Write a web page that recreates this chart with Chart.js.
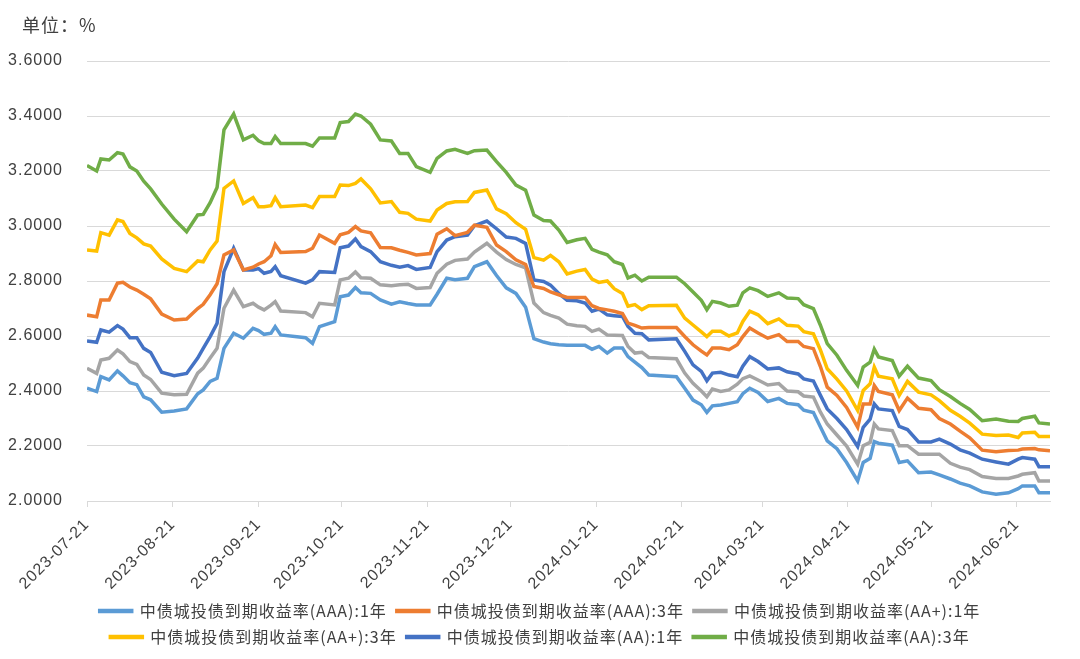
<!DOCTYPE html>
<html>
<head>
<meta charset="utf-8">
<script src="https://cdn.jsdelivr.net/npm/chart.js@4.4.1/dist/chart.umd.min.js"></script>
<style>
  html, body { margin: 0; padding: 0; background: #fff; }
  #wrap { width: 1080px; height: 659px; position: relative; }
</style>
</head>
<body>
<div id="wrap"><canvas id="lineChart"></canvas></div>
<script>
// days counted from 2023-07-21
var days = [
	0, 3.5, 5, 8, 11, 13, 15.5, 18, 20.5, 23,
	27, 31.5, 36, 40, 42, 44.5, 47, 49.5, 53, 56.5,
	60, 62, 64, 66.5, 68, 70, 79, 81.5, 84, 89.5,
	91.5, 94.5, 97, 99, 102.5, 106, 110, 113, 116, 119,
	124, 126.5, 130, 133, 137.5, 140, 144.5, 148, 151.5, 155,
	158.5, 161.5, 165, 167.5, 170.5, 173.5, 177, 180, 182.5, 185,
	188, 190.5, 193.5, 195.5, 198, 200.5, 203, 213, 216, 219,
	222, 224, 226, 229, 232, 235, 237, 239.5, 242.5, 246,
	250, 253, 257, 259, 262.5, 265, 267.5, 271, 274.5, 278.5,
	280.5, 283, 284.5, 286, 291, 293.5, 296.5, 300.5, 305, 308,
	312, 315.5, 319, 323.5, 328.5, 333, 336.5, 338, 342.5, 344,
	348
];

var tickDays = [0, 31, 62, 92, 123, 153, 184, 215, 244, 275, 305, 336];
var tickLabels = ["2023-07-21", "2023-08-21", "2023-09-21", "2023-10-21", "2023-11-21", "2023-12-21",
	"2024-01-21", "2024-02-21", "2024-03-21", "2024-04-21", "2024-05-21", "2024-06-21"];

var seriesNames = [
	"中债城投债到期收益率(AAA):1年",
	"中债城投债到期收益率(AAA):3年",
	"中债城投债到期收益率(AA+):1年",
	"中债城投债到期收益率(AA+):3年",
	"中债城投债到期收益率(AA):1年",
	"中债城投债到期收益率(AA):3年"
];
var seriesColors = ["#5B9BD5", "#ED7D31", "#A5A5A5", "#FFC000", "#4472C4", "#70AD47"];

var aaa1y = [
	2.410, 2.398, 2.452, 2.440, 2.473, 2.455, 2.430, 2.423, 2.379, 2.368,
	2.323, 2.327, 2.335, 2.390, 2.404, 2.435, 2.446, 2.555, 2.610, 2.592,
	2.628, 2.620, 2.606, 2.610, 2.634, 2.604, 2.594, 2.573, 2.634, 2.652,
	2.743, 2.749, 2.776, 2.757, 2.755, 2.731, 2.716, 2.724, 2.718, 2.713,
	2.713, 2.752, 2.810, 2.805, 2.810, 2.852, 2.870, 2.820, 2.775, 2.755,
	2.705, 2.590, 2.578, 2.572, 2.568, 2.566, 2.566, 2.566, 2.552, 2.562,
	2.538, 2.556, 2.556, 2.525, 2.505, 2.485, 2.458, 2.452, 2.410, 2.367,
	2.350, 2.322, 2.346, 2.349, 2.355, 2.361, 2.390, 2.410, 2.395, 2.362,
	2.373, 2.355, 2.350, 2.330, 2.322, 2.270, 2.219, 2.190, 2.140, 2.073,
	2.140, 2.155, 2.216, 2.210, 2.203, 2.140, 2.146, 2.103, 2.105, 2.095,
	2.080, 2.065, 2.055, 2.033, 2.025, 2.030, 2.045, 2.055, 2.055, 2.030,
	2.030
];
var aaa3y = [
	2.676, 2.670, 2.731, 2.731, 2.792, 2.795, 2.778, 2.767, 2.752, 2.735,
	2.680, 2.658, 2.662, 2.700, 2.715, 2.750, 2.790, 2.895, 2.913, 2.840,
	2.850, 2.862, 2.870, 2.892, 2.933, 2.904, 2.907, 2.919, 2.967, 2.937,
	2.968, 2.977, 2.998, 2.982, 2.975, 2.922, 2.921, 2.912, 2.904, 2.895,
	2.900, 2.970, 2.990, 2.965, 2.977, 3.003, 2.995, 2.931, 2.907, 2.877,
	2.860, 2.780, 2.773, 2.760, 2.750, 2.740, 2.740, 2.740, 2.710, 2.700,
	2.695, 2.690, 2.682, 2.647, 2.639, 2.629, 2.631, 2.631, 2.598, 2.568,
	2.545, 2.531, 2.556, 2.556, 2.550, 2.568, 2.598, 2.629, 2.611, 2.592,
	2.605, 2.580, 2.580, 2.562, 2.554, 2.490, 2.414, 2.384, 2.340, 2.268,
	2.353, 2.353, 2.420, 2.398, 2.386, 2.329, 2.374, 2.337, 2.332, 2.300,
	2.280, 2.254, 2.230, 2.185, 2.179, 2.184, 2.185, 2.189, 2.191, 2.186,
	2.183
];
var aap1y = [
	2.483, 2.464, 2.513, 2.519, 2.549, 2.535, 2.507, 2.497, 2.458, 2.442,
	2.392, 2.386, 2.388, 2.465, 2.483, 2.520, 2.555, 2.701, 2.767, 2.707,
	2.719, 2.705, 2.695, 2.712, 2.725, 2.691, 2.685, 2.670, 2.719, 2.713,
	2.804, 2.810, 2.833, 2.812, 2.810, 2.786, 2.783, 2.786, 2.788, 2.773,
	2.776, 2.828, 2.861, 2.875, 2.880, 2.905, 2.937, 2.905, 2.878, 2.860,
	2.848, 2.720, 2.685, 2.675, 2.665, 2.643, 2.637, 2.635, 2.617, 2.625,
	2.604, 2.603, 2.602, 2.562, 2.538, 2.541, 2.522, 2.517, 2.465, 2.428,
	2.400, 2.379, 2.407, 2.398, 2.404, 2.425, 2.445, 2.455, 2.440, 2.422,
	2.427, 2.400, 2.397, 2.382, 2.378, 2.324, 2.280, 2.240, 2.200, 2.134,
	2.201, 2.213, 2.280, 2.262, 2.256, 2.201, 2.201, 2.170, 2.170, 2.170,
	2.137, 2.123, 2.114, 2.089, 2.082, 2.082, 2.091, 2.097, 2.103, 2.073,
	2.073
];
var aap3y = [
	2.913, 2.909, 2.976, 2.967, 3.022, 3.016, 2.973, 2.957, 2.935, 2.927,
	2.880, 2.846, 2.834, 2.873, 2.870, 2.913, 2.945, 3.137, 3.164, 3.082,
	3.103, 3.070, 3.070, 3.074, 3.103, 3.070, 3.076, 3.067, 3.107, 3.107,
	3.149, 3.147, 3.155, 3.171, 3.135, 3.084, 3.089, 3.050, 3.046, 3.025,
	3.018, 3.058, 3.082, 3.088, 3.089, 3.122, 3.131, 3.062, 3.045, 3.012,
	2.988, 2.885, 2.876, 2.893, 2.870, 2.826, 2.836, 2.842, 2.807, 2.795,
	2.800, 2.772, 2.755, 2.708, 2.714, 2.696, 2.710, 2.712, 2.665, 2.640,
	2.615, 2.598, 2.617, 2.617, 2.600, 2.611, 2.653, 2.690, 2.677, 2.645,
	2.662, 2.639, 2.636, 2.616, 2.608, 2.550, 2.481, 2.443, 2.400, 2.329,
	2.402, 2.426, 2.487, 2.454, 2.444, 2.384, 2.435, 2.396, 2.386, 2.365,
	2.330, 2.308, 2.283, 2.243, 2.238, 2.240, 2.231, 2.247, 2.250, 2.235,
	2.235
];
var aa1y = [
	2.582, 2.577, 2.622, 2.614, 2.638, 2.625, 2.594, 2.594, 2.555, 2.540,
	2.468, 2.456, 2.464, 2.520, 2.555, 2.598, 2.646, 2.834, 2.919, 2.840,
	2.840, 2.845, 2.828, 2.835, 2.852, 2.819, 2.792, 2.804, 2.834, 2.831,
	2.921, 2.927, 2.953, 2.925, 2.907, 2.870, 2.857, 2.850, 2.856, 2.842,
	2.849, 2.907, 2.949, 2.961, 2.967, 3.001, 3.018, 2.990, 2.960, 2.955,
	2.937, 2.804, 2.798, 2.785, 2.755, 2.730, 2.728, 2.720, 2.690, 2.698,
	2.677, 2.674, 2.671, 2.635, 2.610, 2.608, 2.586, 2.590, 2.544, 2.495,
	2.471, 2.437, 2.465, 2.468, 2.458, 2.452, 2.490, 2.525, 2.507, 2.480,
	2.484, 2.470, 2.462, 2.444, 2.436, 2.385, 2.335, 2.300, 2.260, 2.198,
	2.268, 2.298, 2.353, 2.335, 2.329, 2.271, 2.260, 2.215, 2.215, 2.225,
	2.207, 2.186, 2.174, 2.152, 2.142, 2.134, 2.152, 2.158, 2.152, 2.125,
	2.125
];
var aa3y = [
	3.220, 3.200, 3.244, 3.240, 3.267, 3.262, 3.215, 3.200, 3.163, 3.135,
	3.080, 3.025, 2.979, 3.040, 3.042, 3.085, 3.140, 3.350, 3.407, 3.313,
	3.330, 3.310, 3.300, 3.300, 3.325, 3.300, 3.300, 3.290, 3.320, 3.320,
	3.376, 3.380, 3.407, 3.400, 3.370, 3.313, 3.309, 3.264, 3.264, 3.216,
	3.195, 3.246, 3.273, 3.279, 3.264, 3.274, 3.276, 3.234, 3.195, 3.149,
	3.130, 3.040, 3.020, 3.018, 2.985, 2.940, 2.950, 2.955, 2.915, 2.905,
	2.895, 2.870, 2.860, 2.811, 2.821, 2.800, 2.814, 2.814, 2.790, 2.760,
	2.730, 2.696, 2.726, 2.720, 2.708, 2.712, 2.757, 2.775, 2.765, 2.744,
	2.757, 2.738, 2.736, 2.714, 2.700, 2.640, 2.572, 2.530, 2.475, 2.420,
	2.487, 2.505, 2.552, 2.524, 2.511, 2.454, 2.490, 2.447, 2.438, 2.405,
	2.380, 2.355, 2.333, 2.292, 2.298, 2.290, 2.289, 2.300, 2.308, 2.284,
	2.280
];

var seriesValues = [aaa1y, aaa3y, aap1y, aap3y, aa1y, aa3y];

function toPoints(vals) {
	return vals.map(function (v, i) { return { x: days[i], y: v }; });
}

var datasets = seriesNames.map(function (name, i) {
	return {
		label: name,
		data: toPoints(seriesValues[i]),
		borderColor: seriesColors[i],
		backgroundColor: seriesColors[i],
		borderWidth: 3.5,
		pointRadius: 0,
		fill: false,
		lineTension: 0
	};
});

// the source font is spaced out a bit, canvas state is reset on resize so set it again
var spacing = {
	id: "spacing",
	beforeLayout: function (chart) { chart.ctx.letterSpacing = "1px"; },
	beforeDraw: function (chart) { chart.ctx.letterSpacing = "1px"; }
};

// legend sits centred on the whole picture, not on the padded box
var legendShift = {
	id: "legendShift",
	afterLayout: function (chart) {
		chart.legend.left += 15;
		chart.legend.right += 15;
	}
};

// "单位：%" in the top left corner
var unitLabel = {
	id: "unitLabel",
	afterDraw: function (chart) {
		var c = chart.ctx;
		c.save();
		c.font = '18px "Noto Sans CJK SC"';
		c.fillStyle = "#404040";
		c.textBaseline = "middle";
		c.fillText("单位：%", 22, 25);
		c.restore();
	}
};

var ctx = document.getElementById("lineChart");
var chart = new Chart(ctx, {
	type: "line",
	data: { datasets: datasets },
	options: {
		responsive: true,
		maintainAspectRatio: false,
		animation: false,
		layout: { padding: { top: 61, right: 30, bottom: 4, left: 0 } },
		plugins: {
			title: { display: false },
			tooltip: { enabled: false },
			legend: {
				display: true,
				position: "bottom",
				labels: {
					boxWidth: 32,
					boxHeight: 1,
					padding: 10,
					color: "#404040",
					font: { family: '"Noto Sans CJK SC"', size: 16 }
				}
			}
		},
		scales: {
			x: {
				type: "linear",
				min: 0,
				max: 348,
				afterBuildTicks: function (scale) {
					scale.ticks = tickDays.map(function (d) { return { value: d }; });
				},
				afterFit: function (scale) { scale.height = 92; },
				ticks: {
					autoSkip: false,
					minRotation: 45,
					maxRotation: 45,
					padding: 8,
					color: "#404040",
					font: { family: '"Liberation Sans"', size: 16 },
					callback: function (value, index) { return tickLabels[index]; }
				},
				grid: {
					drawOnChartArea: false,
					drawTicks: true,
					tickLength: 6,
					color: "#d9d9d9"
				},
				border: { display: true, color: "#d9d9d9", width: 1 }
			},
			y: {
				min: 2,
				max: 3.6,
				afterFit: function (scale) { scale.width = 87; },
				ticks: {
					stepSize: 0.2,
					padding: 24,
					color: "#404040",
					font: { family: '"Liberation Sans"', size: 16 },
					callback: function (value) { return value.toFixed(4); }
				},
				grid: { color: "#d9d9d9", lineWidth: 1, drawTicks: false },
				border: { display: false }
			}
		}
	},
	plugins: [spacing, legendShift, unitLabel]
});
</script>
</body>
</html>
